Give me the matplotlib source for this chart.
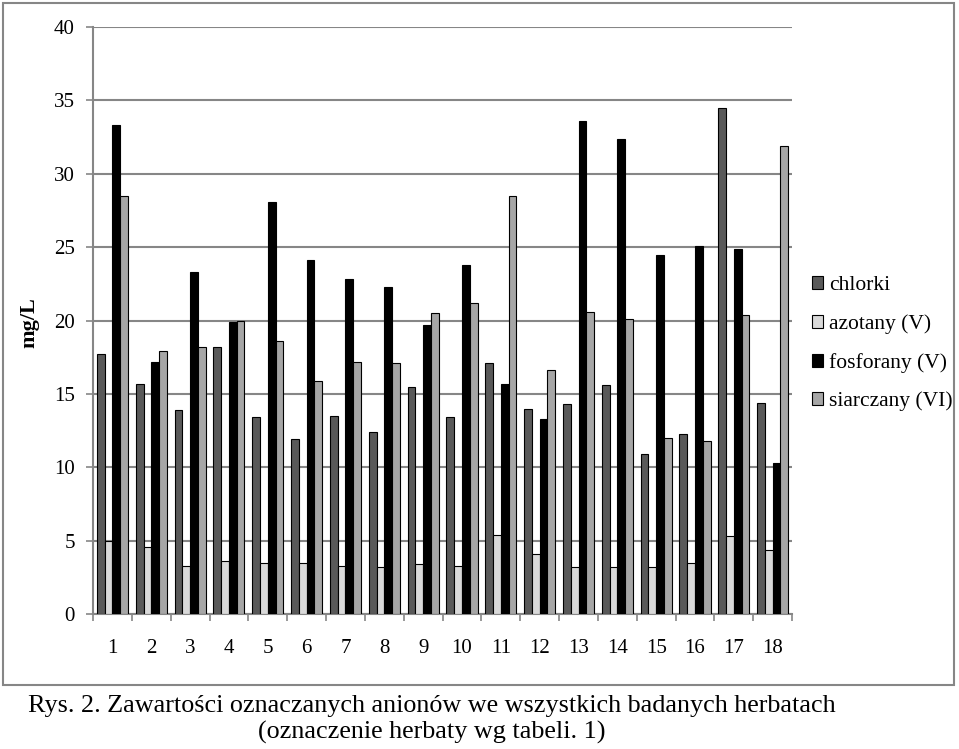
import matplotlib
matplotlib.use("Agg")
import matplotlib.pyplot as plt
import numpy as np
from matplotlib.patches import Rectangle
from matplotlib.ticker import FixedLocator

plt.rcParams['font.family'] = ['Liberation Serif', 'DejaVu Serif']

# herbaty 1..18
herbaty = [str(i) for i in range(1, 19)]
chlorki = [17.7, 15.7, 13.9, 18.2, 13.4, 11.9, 13.5, 12.4, 15.5, 13.4, 17.1, 14.0, 14.3, 15.6, 10.9, 12.3, 34.5, 14.4]
azotany = [5.0, 4.6, 3.3, 3.6, 3.5, 3.5, 3.3, 3.2, 3.4, 3.3, 5.4, 4.1, 3.2, 3.2, 3.2, 3.5, 5.3, 4.4]
fosforany = [33.3, 17.2, 23.3, 19.9, 28.1, 24.1, 22.8, 22.3, 19.7, 23.8, 15.7, 13.3, 33.6, 32.4, 24.5, 25.1, 24.9, 10.3]
siarczany = [28.5, 17.9, 18.2, 20.0, 18.6, 15.9, 17.2, 17.1, 20.5, 21.2, 28.5, 16.6, 20.6, 20.1, 12.0, 11.8, 20.4, 31.9]

serie = [
    ("chlorki", chlorki, "#595959"),
    ("azotany (V)", azotany, "#d9d9d9"),
    ("fosforany (V)", fosforany, "#000000"),
    ("siarczany (VI)", siarczany, "#a6a6a6"),
]

fig = plt.figure(figsize=(9.59, 7.49), dpi=100)
ax = fig.add_axes([0.097, 0.180, 0.729, 0.784])

x = np.arange(len(herbaty))
w = 0.2
handles = []
for i, (nazwa, vals, kolor) in enumerate(serie):
    b = ax.bar(x + (i - 1.5) * w, vals, w, color=kolor, edgecolor="black",
               linewidth=0.8, label=nazwa, zorder=3)
    handles.append(b)

ax.set_xlim(-0.5, len(herbaty) - 0.5)
ax.set_ylim(0, 40)
ax.set_yticks(range(0, 41, 5))
ax.yaxis.grid(True, color="#868686", linewidth=1.5, zorder=0)
ax.set_xticks(x)
ax.set_xticklabels(herbaty)
ax.xaxis.set_minor_locator(FixedLocator(np.arange(-0.5, len(herbaty), 1)))
ax.tick_params(axis="x", which="major", length=0, pad=18, labelsize=15)
ax.tick_params(axis="x", which="minor", length=5, color="#868686", width=1.2)
ax.tick_params(axis="y", length=5, color="#868686", width=1.2, pad=8, labelsize=15)

for s in ["top", "right"]:
    ax.spines[s].set_visible(False)
for s in ["left", "bottom"]:
    ax.spines[s].set_color("#868686")
    ax.spines[s].set_linewidth(1.5)

fig.text(0.031, 0.569, "mg/L", rotation=90, fontsize=16, fontweight="bold",
         ha="center", va="center")

fig.legend(handles=handles, loc="center left", bbox_to_anchor=(0.826, 0.541),
           frameon=False, fontsize=15.5, handlelength=0.55, handleheight=0.55,
           handletextpad=0.25, labelspacing=0.88)

fig.add_artist(Rectangle((0.003, 0.0855), 0.992, 0.910, transform=fig.transFigure,
                         fill=False, edgecolor="#868686", linewidth=1.5))

fig.text(0.45, 0.058, "Rys. 2. Zawartości oznaczanych anionów we wszystkich badanych herbatach",
         fontsize=18.8, ha="center", va="center")
fig.text(0.45, 0.022, "(oznaczenie herbaty wg tabeli. 1)",
         fontsize=18.8, ha="center", va="center")

fig.savefig("out.png", dpi=100)
